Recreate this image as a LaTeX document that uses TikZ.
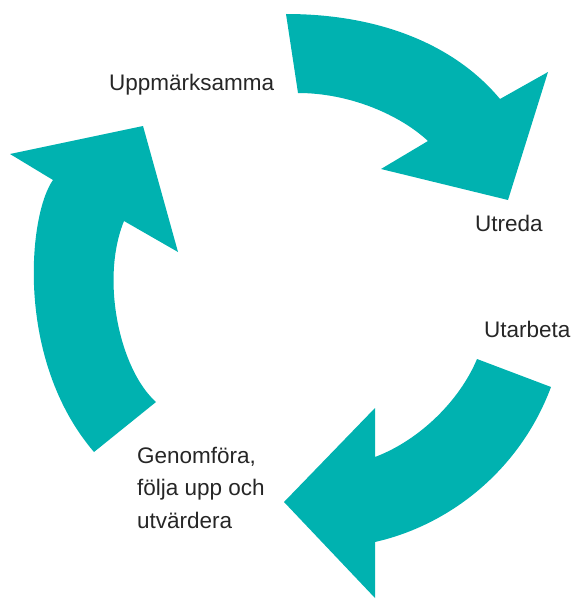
\documentclass[tikz,border=0pt]{standalone}
\usepackage{fontspec}
\setmainfont{Liberation Sans}
\usetikzlibrary{positioning}
\definecolor{arrow_teal}{RGB}{0,178,176}
\definecolor{text_grey}{RGB}{38,38,38}

\begin{document}
\begin{tikzpicture}[x=1pt,y=-1pt]
     \tikzstyle{arrow_style} = [fill=arrow_teal]
     \tikzstyle{label_style} = [inner sep=0pt,text=text_grey,align=left,font=\fontsize{22.5}{32.5}\selectfont]
     \useasboundingbox (0,0) rectangle (572,599);
     % top arrow
     \fill[arrow_style] (286,14) .. controls (380,14) and (455,45) .. (500,99)
        -- (548,72) -- (508,200) -- (381,169) -- (428,141)
        .. controls (400,115) and (350,93) .. (298,93) -- cycle;
     % bottom arrow
     \fill[arrow_style] (551,387) .. controls (520,470) and (450,525) .. (375,542)
        -- (375,598) -- (284,502) -- (375,408) -- (375,457)
        .. controls (420,440) and (460,400) .. (477,359) -- cycle;
     % left arrow
     \fill[arrow_style] (94,452) .. controls (15,360) and (28,215) .. (53,180)
        -- (10,154) -- (143,126) -- (178,252) -- (124,221)
        .. controls (100,280) and (120,370) .. (156,402) -- cycle;
     \node[label_style,anchor=base west] (l1) at (109,91) {Uppmärksamma};
     \node[label_style,anchor=base west] (l2) at (475,231) {Utreda};
     \node[label_style,anchor=base west] (l3) at (484,337) {Utarbeta};
     \node[label_style,anchor=base west] (l4) at (137,528) {Genomföra,\\följa upp och\\utvärdera};
\end{tikzpicture}
\end{document}
